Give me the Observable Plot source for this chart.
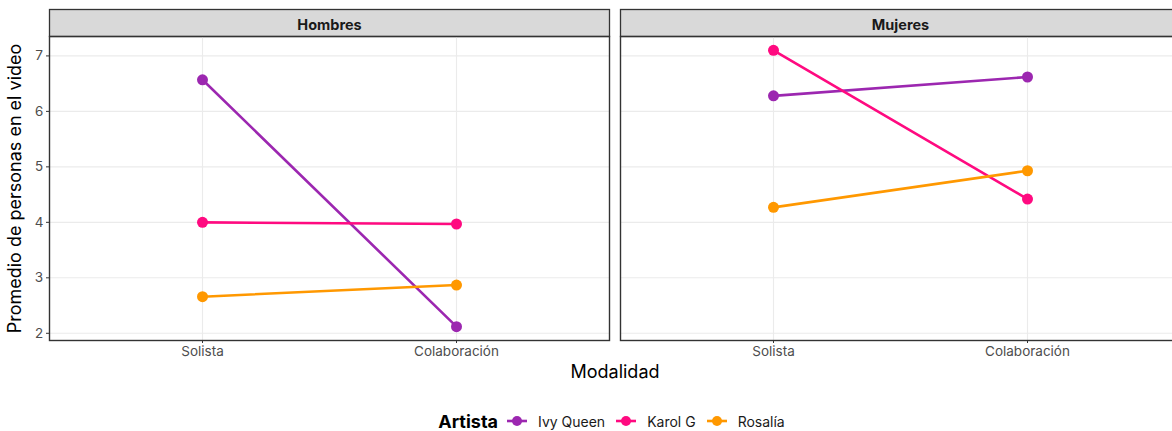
<!DOCTYPE html>
<html>
<head>
<meta charset="utf-8">
<script src="https://cdn.jsdelivr.net/npm/d3@7"></script>
<script src="https://cdn.jsdelivr.net/npm/@observablehq/plot@0.6"></script>
<style>
  html, body { margin: 0; padding: 0; background: #fff; overflow: hidden; }
  #wrap { width: 1183px; font-family: Inter, "Noto Sans", sans-serif; }
  #legend { display: flex; justify-content: center; align-items: center; height: 20px; margin-top: 16px; padding-left: 50px; font-size: 14px; color: #1a1a1a; }
  #legend .title { font-weight: bold; font-size: 18px; color: #000; margin-right: 8px; }
  #legend .key { display: flex; align-items: center; margin-right: 10px; }
  #legend .key svg { margin-right: 10px; }
</style>
</head>
<body>
<div id="wrap">
  <div id="chart"></div>
  <div id="legend"></div>
</div>
<script>
const sexos = ["Hombres", "Mujeres"];
const modalidades = ["Solista", "Colaboración"];
const artistas = ["Ivy Queen", "Karol G", "Rosalía"];
const colores = ["#9C27B0", "#FF0A80", "#FF9800"];
const hombresSolista = [6.57, 4.00, 2.66];
const hombresColab = [2.12, 3.97, 2.87];
const mujeresSolista = [6.28, 7.10, 4.27];
const mujeresColab = [6.62, 4.42, 4.93];
const yTicks = [2, 3, 4, 5, 6, 7];

const valores = {
  Hombres: [hombresSolista, hombresColab],
  Mujeres: [mujeresSolista, mujeresColab]
};
const data = [];
for (const s of sexos) {
  artistas.forEach((a, i) => {
    modalidades.forEach((m, j) => {
      data.push({sexo: s, modalidad: m, artista: a, valor: valores[s][j][i]});
    });
  });
}

const W = 1183, H = 395, mT = 36, mB = 55, mL = 48, mR = 2;
const panelH = H - mT - mB;

const chart = Plot.plot({
  width: W, height: H,
  marginLeft: mL, marginRight: mR, marginTop: mT, marginBottom: mB,
  style: {fontFamily: "Inter, 'Noto Sans', sans-serif", fontSize: "13.5px", color: "#4d4d4d", background: "#fff"},
  fx: {domain: sexos, paddingInner: 0.01923, paddingOuter: 0, label: null},
  x: {domain: modalidades, padding: 0.6, label: null},
  y: {domain: [1.87, 7.35], label: null},
  color: {domain: artistas, range: colores},
  marks: [
    Plot.frame({fill: "#d9d9d9", stroke: "#333", strokeWidth: 1.3, insetTop: -27, insetBottom: panelH}),
    Plot.gridY(yTicks, {stroke: "#ebebeb", strokeOpacity: 1, strokeWidth: 1.1}),
    Plot.gridX({stroke: "#ebebeb", strokeOpacity: 1, strokeWidth: 1.1}),
    Plot.frame({stroke: "#333", strokeWidth: 1.4}),
    Plot.axisFx({anchor: "top", tickSize: 0, tickPadding: 7, fontWeight: "bold", fontSize: 14.5, fill: "#1a1a1a", label: null}),
    Plot.axisFx({anchor: "bottom", ticks: [], tickSize: 0, label: "Modalidad", labelArrow: "none", labelAnchor: "center", labelOffset: 37, fontSize: 18, fill: "#000"}),
    Plot.axisY({ticks: yTicks, tickFormat: "d", tickSize: 3, tickPadding: 3, label: null, stroke: "#333"}),
    Plot.axisY({ticks: [], tickSize: 0, label: "Promedio de personas en el video", labelArrow: "none", labelAnchor: "center", labelOffset: 41, fontSize: 18, fill: "#000"}),
    Plot.axisX({tickSize: 3, tickPadding: 3, label: null, stroke: "#333"}),
    Plot.line(data, {fx: "sexo", x: "modalidad", y: "valor", z: "artista", stroke: "artista", strokeWidth: 2.6}),
    Plot.dot(data, {fx: "sexo", x: "modalidad", y: "valor", fill: "artista", r: 5.5})
  ]
});
document.getElementById("chart").appendChild(chart);

const legend = document.getElementById("legend");
const t = document.createElement("span");
t.className = "title";
t.textContent = "Artista";
legend.appendChild(t);
artistas.forEach((a, i) => {
  const k = document.createElement("span");
  k.className = "key";
  k.innerHTML = `<svg width="22" height="14"><line x1="1" x2="21" y1="7" y2="7" stroke="${colores[i]}" stroke-width="2.6"/><circle cx="11" cy="7" r="5" fill="${colores[i]}"/></svg><span>${a}</span>`;
  legend.appendChild(k);
});
</script>
</body>
</html>
